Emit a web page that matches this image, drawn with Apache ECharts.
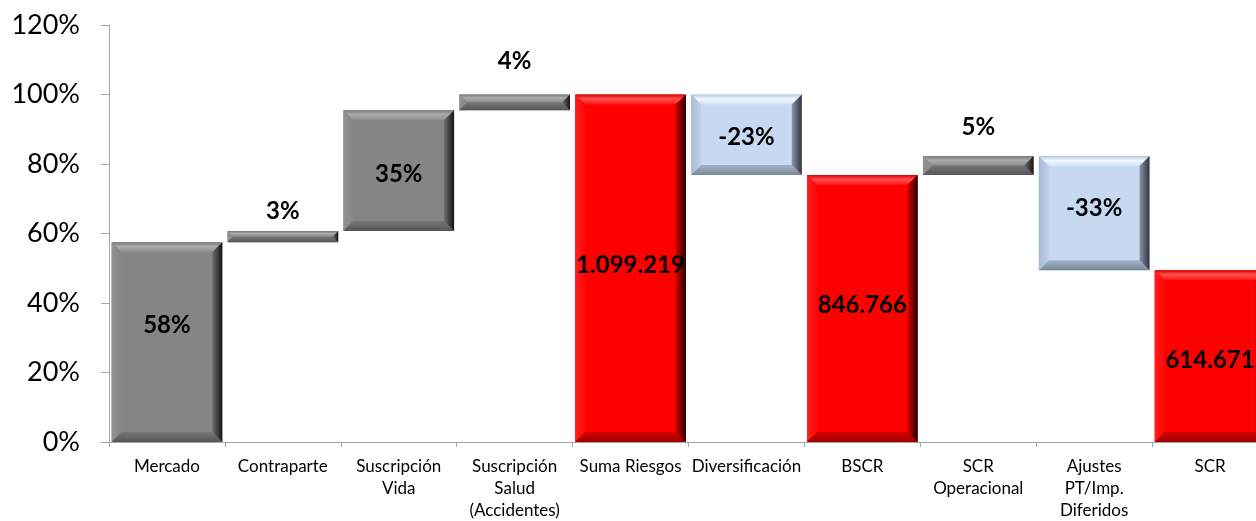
<!DOCTYPE html>
<html>
<head>
<meta charset="utf-8">
<script src="https://cdn.jsdelivr.net/npm/echarts@6/dist/echarts.min.js"></script>
<style>html,body{margin:0;padding:0;background:#fff;}#c{width:1256px;height:521px;}</style>
</head>
<body>
<div id="c"></div>
<script>
const categories = ['Mercado', 'Contraparte', 'Suscripción\nVida', 'Suscripción\nSalud\n(Accidentes)', 'Suma Riesgos', 'Diversificación', 'BSCR', 'SCR\nOperacional', 'Ajustes\nPT/Imp.\nDiferidos', 'SCR'];
const lowValues  = [0,     0.575, 0.607, 0.955, 0,   0.768, 0,     0.768, 0.494, 0];
const highValues = [0.575, 0.607, 0.955, 1.0,   1.0, 1.0,   0.768, 0.823, 0.823, 0.494];
const valueLabels = ['58%', '3%', '35%', '4%', '1.099.219', '-23%', '846.766', '5%', '-33%', '614.671'];
const barKinds = ['gray', 'gray', 'gray', 'gray', 'red', 'blue', 'red', 'gray', 'blue', 'red'];
const yTicks = [0, 0.2, 0.4, 0.6, 0.8, 1.0, 1.2];

// label placement (style): where the label sits relative to its bar
const labelPlace = ['center', 'top', 'center', 'top', 'center', 'center', 'center', 'top', 'center', 'center'];
const labelShift = [-17, -9, 4, -22, -3, 2, -3, -18, -5, 4];

const palette = {
  gray: {base: '#858585', top: ['#7a7a7a', '#ababab', '#8c8c8c'], left: ['#929292', '#868686'], right: ['#6e6e6e', '#151515'], bottom: ['#777777', '#555555']},
  red:  {base: '#ff0000', top: ['#e00000', '#ff5252', '#ff1010'], left: ['#ff1f1f', '#ff0505'], right: ['#d00000', '#250000'], bottom: ['#d80000', '#9a0000']},
  blue: {base: '#c6d9f1', top: ['#b6c9e0', '#f2f7fe', '#d0e1f5'], left: ['#a8bbd3', '#bed1e9'], right: ['#8896a8', '#2e3540'], bottom: ['#a2b2c6', '#7a8899']}
};

function lg(x2, y2, cols) {
  const stops = cols.length === 3
    ? [{offset: 0, color: cols[0]}, {offset: 0.45, color: cols[1]}, {offset: 1, color: cols[2]}]
    : [{offset: 0, color: cols[0]}, {offset: 1, color: cols[1]}];
  return {type: 'linear', x: 0, y: 0, x2: x2, y2: y2, colorStops: stops};
}

const seriesData = categories.map((c, i) => [i, lowValues[i], highValues[i]]);

function renderItem(params, api) {
  const i = api.value(0);
  const lo = api.value(1), hi = api.value(2);
  const pTop = api.coord([i, hi]);
  const pBot = api.coord([i, lo]);
  const bw = api.size([1, 0])[0] * 0.955;
  const x0 = pTop[0] - bw / 2, x1 = pTop[0] + bw / 2;
  const y0 = pTop[1], y1 = pBot[1];
  const h = y1 - y0;
  const b = Math.min(10, h / 2, bw / 2);
  const pal = palette[barKinds[i]];
  const children = [
    {type: 'rect', shape: {x: x0, y: y0, width: bw, height: h}, style: {fill: pal.base}},
    {type: 'polygon', shape: {points: [[x0, y0], [x1, y0], [x1 - b, y0 + b], [x0 + b, y0 + b]]}, style: {fill: lg(0, 1, pal.top)}},
    {type: 'polygon', shape: {points: [[x0, y0], [x0 + b, y0 + b], [x0 + b, y1 - b], [x0, y1]]}, style: {fill: lg(1, 0, pal.left)}},
    {type: 'polygon', shape: {points: [[x0, y1], [x1, y1], [x1 - b, y1 - b], [x0 + b, y1 - b]]}, style: {fill: lg(0, 1, pal.bottom)}},
    {type: 'polygon', shape: {points: [[x1, y0], [x1, y1], [x1 - b, y1 - b], [x1 - b, y0 + b]]}, style: {fill: lg(1, 0, pal.right)}}
  ];
  const ly = labelPlace[i] === 'top' ? y0 + labelShift[i] - 11 : (y0 + y1) / 2 + labelShift[i];
  children.push({
    type: 'text', z2: 100,
    style: {text: valueLabels[i], x: pTop[0], y: ly, align: 'center', verticalAlign: 'middle',
            font: 'bold 24px Lato', fill: '#000000'}
  });
  return {type: 'group', children: children};
}

const chart = echarts.init(document.getElementById('c'), null, {renderer: 'canvas'});
chart.setOption({
  animation: false,
  backgroundColor: '#ffffff',
  grid: {left: 109, top: 25, width: 1159, height: 417, containLabel: false, outerBoundsMode: 'none'},
  xAxis: {
    type: 'category',
    data: categories,
    boundaryGap: true,
    axisLine: {lineStyle: {color: '#a6a6a6', width: 1}},
    axisTick: {show: true, alignWithLabel: false, length: 5, lineStyle: {color: '#a6a6a6'}},
    axisLabel: {interval: 0, color: '#000', fontFamily: 'Lato', fontSize: 17, lineHeight: 22, margin: 14}
  },
  yAxis: {
    type: 'value',
    min: yTicks[0], max: yTicks[yTicks.length - 1], interval: 0.2,
    axisLine: {show: true, lineStyle: {color: '#a6a6a6', width: 1}},
    axisTick: {show: true, length: 8, lineStyle: {color: '#a6a6a6'}},
    splitLine: {show: false},
    axisLabel: {color: '#000', fontFamily: 'Lato', fontSize: 27, margin: 29,
                formatter: v => Math.round(v * 100) + '%'}
  },
  series: [{
    type: 'custom',
    renderItem: renderItem,
    data: seriesData,
    encode: {x: 0, y: [1, 2]},
    clip: false
  }]
});
</script>
</body>
</html>
